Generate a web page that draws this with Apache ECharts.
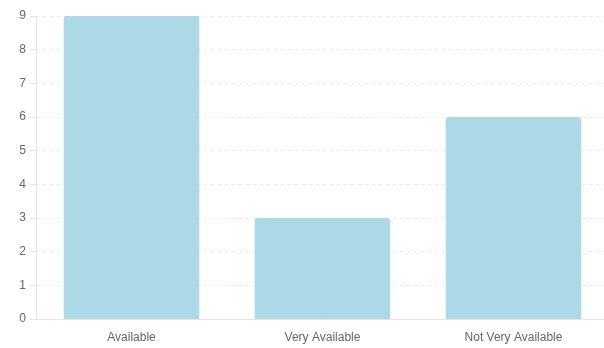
<!DOCTYPE html>
<html><head><meta charset="utf-8">
<script src="https://cdn.jsdelivr.net/npm/echarts@6/dist/echarts.min.js"></script>
<style>html,body{margin:0;padding:0;background:#fff;overflow:hidden}#c{width:614px;height:348px}</style>
</head><body><div id="c"></div>
<script>
const categories = ["Available", "Very Available", "Not Very Available"];
const values = [9, 3, 6];
const yTicks = [0, 1, 2, 3, 4, 5, 6, 7, 8, 9];

const chart = echarts.init(document.getElementById('c'), null, {renderer: 'canvas'});
chart.setOption({
  animation: false,
  grid: {left: 36, top: 16, width: 573, height: 303, containLabel: false},
  xAxis: {
    type: 'category', data: categories,
    axisLine: {lineStyle: {color: '#e5e5e5'}},
    axisTick: {show: false},
    axisLabel: {color: '#666', fontFamily: 'Liberation Sans', fontSize: 12, margin: 13},
    splitLine: {show: false}
  },
  yAxis: {
    type: 'value', min: yTicks[0], max: yTicks[yTicks.length - 1], interval: 1,
    axisLine: {show: true, lineStyle: {color: '#e5e5e5'}},
    axisTick: {show: true, length: 6, lineStyle: {color: '#e5e5e5'}},
    axisLabel: {color: '#666', fontFamily: 'Liberation Sans', fontSize: 12, margin: 10},
    splitLine: {show: true, lineStyle: {color: '#e8e8e8', type: [3, 4]}}
  },
  series: [{
    type: 'bar', data: values, barWidth: '71%',
    itemStyle: {color: '#add8e6', borderRadius: [3, 3, 0, 0]}
  }]
});
</script></body></html>
